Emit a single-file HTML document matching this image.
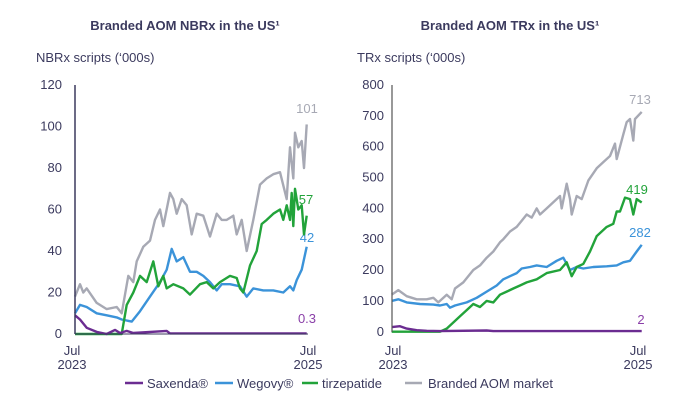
<!DOCTYPE html><html><head><style>
body{margin:0;background:#fff;width:674px;height:405px;overflow:hidden;font-family:"Liberation Sans",sans-serif}
text{font-family:"Liberation Sans",sans-serif}
</style></head><body>
<svg id="s" width="674" height="405" viewBox="0 0 674 405" xmlns="http://www.w3.org/2000/svg">
<g fill="#3b3a5e" font-size="13">
<text x="185" y="30" text-anchor="middle" font-weight="bold" font-size="13">Branded AOM NBRx in the US¹</text>
<text x="510" y="30" text-anchor="middle" font-weight="bold" font-size="13">Branded AOM TRx in the US¹</text>
<text x="36" y="62">NBRx scripts (‘000s)</text>
<text x="357" y="62">TRx scripts (‘000s)</text>
<g text-anchor="end">
<text x="62" y="338">0</text><text x="62" y="296.5">20</text><text x="62" y="255">40</text><text x="62" y="213.5">60</text><text x="62" y="172">80</text><text x="62" y="130.5">100</text><text x="62" y="89">120</text>
<text x="384" y="336">0</text><text x="384" y="305">100</text><text x="384" y="274">200</text><text x="384" y="243">300</text><text x="384" y="212.5">400</text><text x="384" y="181.5">500</text><text x="384" y="150.5">600</text><text x="384" y="120">700</text><text x="384" y="89">800</text>
</g>
<g text-anchor="middle">
<text x="72" y="355">Jul</text><text x="72" y="369">2023</text>
<text x="308" y="355">Jul</text><text x="308" y="369">2025</text>
<text x="393" y="355">Jul</text><text x="393" y="369">2023</text>
<text x="638" y="355">Jul</text><text x="638" y="369">2025</text>
</g>
<text x="147" y="388">Saxenda®</text><text x="237" y="388">Wegovy®</text><text x="322" y="388">tirzepatide</text><text x="428" y="388">Branded AOM market</text>
</g>
<g stroke-width="2.5"><line x1="125" y1="383" x2="143" y2="383" stroke="#6b2c91"/><line x1="215" y1="383" x2="233" y2="383" stroke="#3b93d9"/><line x1="302" y1="383" x2="318" y2="383" stroke="#22a33a"/><line x1="405" y1="383" x2="422" y2="383" stroke="#a7a9b4"/></g>
<g font-size="13" text-anchor="middle">
<text x="307" y="113" fill="#a7a9b4">101</text><text x="306" y="204" fill="#22a33a">57</text><text x="307" y="242" fill="#3b93d9">42</text><text x="307" y="323" fill="#8a3fa8">0.3</text>
<text x="640" y="104" fill="#a7a9b4">713</text><text x="637" y="194" fill="#22a33a">419</text><text x="640" y="237" fill="#3b93d9">282</text><text x="641" y="324" fill="#8a3fa8">2</text>
</g>
<g id="L"></g>
<line x1="75" y1="85" x2="75" y2="334" stroke="#3b3a5e" stroke-width="1.5"/>
<line x1="75" y1="334" x2="308" y2="334" stroke="#3b3a5e" stroke-width="1"/>
<line x1="392" y1="85" x2="392" y2="332" stroke="#555" stroke-width="1.2"/>
</svg>
<script>
var S=document.getElementById('L');
function draw(d,fx,fy,c){var p=[];for(var i=0;i<d.length;i+=2)p.push(fx(d[i]).toFixed(1)+','+fy(d[i+1]).toFixed(1));
var e=document.createElementNS('http://www.w3.org/2000/svg','polyline');e.setAttribute('points',p.join(' '));e.setAttribute('fill','none');e.setAttribute('stroke',c);e.setAttribute('stroke-width','2.4');e.setAttribute('stroke-linejoin','round');S.appendChild(e);}
var lx=function(z){return z/3},ly=function(v){return 334-v*249/120};
var rx=function(z){return 340+z/3},ry=function(v){return 331.7-v*30.83/100};
var G='#a7a9b4',B='#3b93d9',N='#22a33a',P='#6b2c91';
draw([225,18,240,24,250,20,260,22,290,15,320,12,350,13,365,10,385,28,400,25,410,35,430,42,450,45,465,55,480,60,490,52,510,68,520,65,530,58,545,65,560,62,575,48,590,58,610,57,630,47,650,58,665,55,680,55,700,57,710,48,725,55,740,40,760,55,780,72,800,75,820,77,840,78,860,65,870,90,880,75,885,97,895,90,905,93,912,80,920,101],lx,ly,G);
draw([225,10,240,14,260,13,290,10,320,9,350,8,365,7,395,6,420,11,450,18,480,25,500,31,515,41,530,35,550,37,570,30,590,30,610,28,630,25,650,21,665,24,690,24,720,23,740,18,760,22,790,21,820,21,850,20,870,23,880,21,890,26,905,31,920,42],lx,ly,B);
draw([225,0,365,0,380,14,400,20,420,28,440,25,460,35,475,23,490,28,500,22,520,24,550,22,570,19,600,24,620,25,640,22,660,25,690,28,710,27,720,22,730,20,750,33,770,40,785,53,800,55,820,58,840,60,850,55,860,62,870,55,875,68,880,52,885,70,895,60,905,62,912,48,920,57],lx,ly,N);
draw([225,9,240,7,260,3,290,1,320,0,345,2,360,0.5,380,1.5,400,0.5,500,1.5,510,0.3,920,0.3],lx,ly,P);
draw([155,120,175,135,200,115,230,105,260,105,280,110,295,95,320,120,335,105,345,140,370,160,400,200,420,215,440,240,460,260,480,290,490,300,510,325,530,340,545,360,560,380,575,370,590,400,600,380,620,400,640,420,660,440,665,400,680,480,690,430,695,380,710,440,725,430,745,490,770,530,790,550,810,570,825,610,830,560,850,640,860,680,870,690,880,620,885,690,905,713],rx,ry,G);
draw([155,100,175,105,200,95,240,90,280,88,300,85,320,90,330,78,345,85,380,95,410,110,440,130,470,150,490,170,510,180,530,190,545,205,570,210,590,215,620,210,650,230,670,240,690,200,710,210,730,205,760,210,800,212,830,215,850,225,870,230,890,260,905,282],rx,ry,B);
draw([155,0,300,0,320,10,340,30,360,50,380,70,400,90,420,80,440,100,460,95,480,120,500,130,520,140,540,150,560,160,590,170,620,190,660,200,680,225,695,180,710,210,730,220,750,260,770,310,800,340,820,350,830,390,840,390,855,435,870,430,880,380,890,430,905,419],rx,ry,N);
draw([155,15,180,18,200,10,230,5,260,3,300,2,440,4,460,2,905,2],rx,ry,P);
</script>
</body></html>
